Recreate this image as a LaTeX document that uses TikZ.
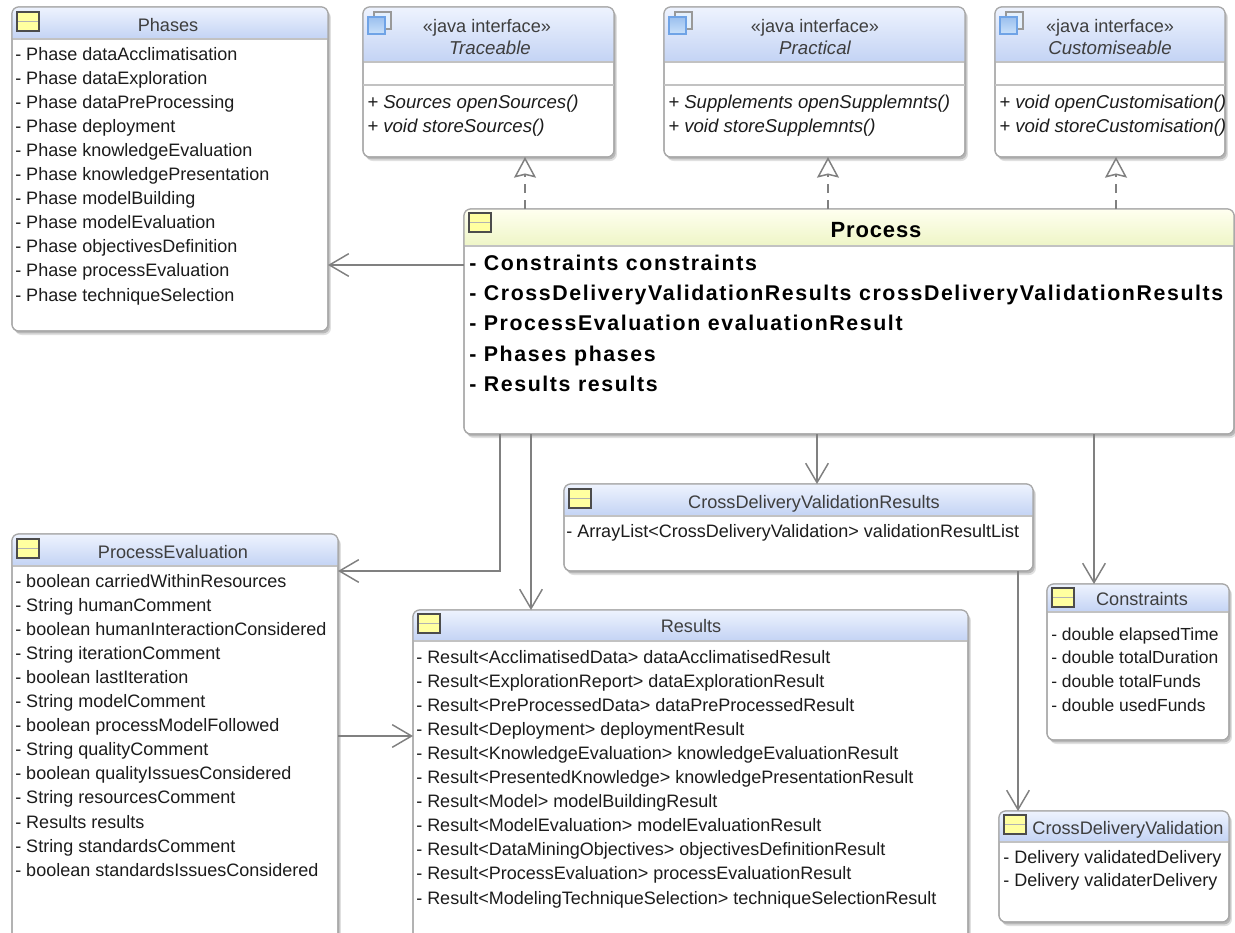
\documentclass[tikz,border=0pt]{standalone}
\usepackage{fontspec}
\setmainfont{Liberation Sans}
\newfontfamily\boldspaced[LetterSpace=7.5]{Liberation Sans Bold}
\newfontfamily\boldtitle[LetterSpace=4]{Liberation Sans Bold}
\usetikzlibrary{arrows.meta,shadows,calc}
\definecolor{headtop}{HTML}{EEF3FE}
\definecolor{headbot}{HTML}{C3D3F4}
\definecolor{ptop}{HTML}{FFFFF0}
\definecolor{pbot}{HTML}{EEF5C6}
\definecolor{edge}{HTML}{808080}
\definecolor{boxedge}{HTML}{A8A8A8}
\definecolor{txt}{HTML}{1C1C1C}
\definecolor{iconyellow}{HTML}{FFFFA0}
\definecolor{iconblue}{HTML}{A6CDF8}
\definecolor{iconline}{HTML}{6FA3E6}
\tikzset{
  classbody/.style={draw=boxedge,line width=.9pt,fill=white,rounded corners=5pt,inner sep=0pt,outer sep=0pt,anchor=north west,
    drop shadow={shadow xshift=2.2pt,shadow yshift=-3pt,opacity=.12,fill=black},
    drop shadow={shadow xshift=1.3pt,shadow yshift=-1.8pt,opacity=.18,fill=black}},
  classborder/.style={draw=boxedge,line width=.9pt,rounded corners=5pt},
  divider/.style={draw=boxedge!70,line width=.8pt},
  title/.style={font=\fontsize{13.6pt}{15pt}\selectfont,text=txt!85,inner sep=0pt,anchor=base},
  ititle/.style={title,font=\fontsize{14pt}{15pt}\selectfont\itshape},
  attr/.style={font=\fontsize{13.5pt}{15pt}\selectfont,text=txt,inner sep=0pt,anchor=base west},
  sattr/.style={attr,font=\fontsize{13.1pt}{15pt}\selectfont},
  meth/.style={attr,font=\fontsize{13.95pt}{15pt}\selectfont\itshape},
  battr/.style={attr,font=\fontsize{16pt}{18pt}\boldspaced,text=black},
  assoc/.style={draw=edge,line width=1.1pt,-{Straight Barb[length=14.5pt,width=17pt,line width=1.1pt]}},
  realize/.style={draw=edge,line width=1.1pt,dash pattern=on 7pt off 5pt,-{Stealth[open,length=15.5pt,width=16.5pt,inset=2pt,line width=1.1pt,fill=white]}},
  yicon/.style={draw=black!70,line width=.9pt,fill=iconyellow},
}
% name x1 y1 x2 y2 headerbottom topcolor botcolor
\newcommand{\classbox}[8]{%
  \pgfmathsetmacro\boxw{(#4-#2)*.75}\pgfmathsetmacro\boxh{(#5-#3)*.75}%
  \node[classbody,minimum width=\boxw pt,minimum height=\boxh pt] (#1) at (#2,#3) {};
  \begin{scope}
    \clip[rounded corners=5pt] (#2,#3) rectangle (#4,#5);
    \shade[top color=#7,bottom color=#8] (#2,#3) rectangle (#4,#6);
  \end{scope}
  \draw[divider] (#2,#6) -- (#4,#6);
  \draw[classborder] (#2,#3) rectangle (#4,#5);
}
\newcommand{\classicon}[2]{%
  \draw[yicon] (#1,#2) rectangle +(22,19);
  \draw[draw=black!30,line width=.7pt] (#1+1,#2+9) -- +(20,0);
}
\newcommand{\ifaceicon}[2]{%
  \draw[draw=black!40,line width=.9pt,fill=white!70!iconblue] (#1+6,#2) rectangle +(17,17);
  \draw[draw=iconline,line width=.9pt,top color=iconline!70,bottom color=iconblue!60] (#1,#2+5) rectangle +(17,17);
}
% prefix style x y0 dy list
\newcommand{\attrlist}[6]{%
  \foreach \t [count=\i from 0] in {#6}{
    \node[#2] (#1-\i) at (#3,#4+\i*#5) {\t};
  }
}
\begin{document}
\begin{tikzpicture}[x=0.75pt,y=-0.75pt]
\useasboundingbox (0,0) rectangle (1235,932);
\clip (0,0) rectangle (1235,932);

% Phases
\classbox{phases}{12}{7}{328}{331}{39}{headtop}{headbot}
\classicon{17}{12}
\node[title] (phases-t) at (168,31) {Phases};
\attrlist{ph}{attr}{15}{60}{24.1}{- Phase dataAcclimatisation,- Phase dataExploration,- Phase dataPreProcessing,- Phase deployment,- Phase knowledgeEvaluation,- Phase knowledgePresentation,- Phase modelBuilding,- Phase modelEvaluation,- Phase objectivesDefinition,- Phase processEvaluation,- Phase techniqueSelection}

% Interfaces
\classbox{trace}{363}{7}{614}{157}{62}{headtop}{headbot}
\ifaceicon{368}{12}
\draw[divider] (363,85) -- (614,85);
\node[title] (trace-s) at (487,32) {«java interface»};
\node[ititle] (trace-t) at (490,54) {Traceable};
\attrlist{tr}{meth}{367}{108}{24}{+ Sources openSources(),+ void storeSources()}

\classbox{pract}{664}{7}{965}{157}{62}{headtop}{headbot}
\ifaceicon{669}{12}
\draw[divider] (664,85) -- (965,85);
\node[title] (pract-s) at (815,32) {«java interface»};
\node[ititle] (pract-t) at (815,54) {Practical};
\attrlist{pr}{meth}{668}{108}{24}{+ Supplements openSupplemnts(),+ void storeSupplemnts()}

\classbox{cust}{995}{7}{1225}{157}{62}{headtop}{headbot}
\ifaceicon{1000}{12}
\draw[divider] (995,85) -- (1225,85);
\node[title] (cust-s) at (1110,32) {«java interface»};
\node[ititle] (cust-t) at (1110,54) {Customiseable};
\attrlist{cu}{meth}{999}{108}{24}{+ void openCustomisation(),+ void storeCustomisation()}

% Process
\classbox{process}{464}{209}{1234}{434}{246}{ptop}{pbot}
\classicon{469}{213}
\node[title,font=\fontsize{16.5pt}{18pt}\boldtitle,text=black] (process-t) at (876,237) {Process};
\attrlist{pa}{battr}{469}{270}{30.4}{- Constraints constraints,- CrossDeliveryValidationResults crossDeliveryValidationResults,- ProcessEvaluation evaluationResult,- Phases phases,- Results results}

% CrossDeliveryValidationResults
\classbox{cdvr}{564}{484}{1033}{571}{516}{headtop}{headbot}
\classicon{569}{489}
\node[title] (cdvr-t) at (814,508) {CrossDeliveryValidationResults};
\attrlist{cr}{attr}{566}{537}{24}{- ArrayList<CrossDeliveryValidation> validationResultList}

% ProcessEvaluation
\classbox{pe}{12}{534}{338}{960}{566}{headtop}{headbot}
\classicon{17}{539}
\node[title] (pe-t) at (173,558) {ProcessEvaluation};
\attrlist{pv}{attr}{15}{587}{24.1}{- boolean carriedWithinResources,- String humanComment,- boolean humanInteractionConsidered,- String iterationComment,- boolean lastIteration,- String modelComment,- boolean processModelFollowed,- String qualityComment,- boolean qualityIssuesConsidered,- String resourcesComment,- Results results,- String standardsComment,- boolean standardsIssuesConsidered}

% Results
\classbox{results}{413}{610}{968}{960}{641}{headtop}{headbot}
\classicon{418}{614}
\node[title] (results-t) at (691,632) {Results};
\attrlist{re}{attr}{416}{663}{24.1}{- Result<AcclimatisedData> dataAcclimatisedResult,- Result<ExplorationReport> dataExplorationResult,- Result<PreProcessedData> dataPreProcessedResult,- Result<Deployment> deploymentResult,- Result<KnowledgeEvaluation> knowledgeEvaluationResult,- Result<PresentedKnowledge> knowledgePresentationResult,- Result<Model> modelBuildingResult,- Result<ModelEvaluation> modelEvaluationResult,- Result<DataMiningObjectives> objectivesDefinitionResult,- Result<ProcessEvaluation> processEvaluationResult,- Result<ModelingTechniqueSelection> techniqueSelectionResult}

% Constraints
\classbox{cons}{1047}{584}{1229}{740}{612}{headtop}{headbot}
\classicon{1052}{588}
\node[title] (cons-t) at (1142,605) {Constraints};
\attrlist{co}{sattr}{1051}{640}{23.7}{- double elapsedTime,- double totalDuration,- double totalFunds,- double usedFunds}

% CrossDeliveryValidation
\classbox{cdv}{999}{811}{1229}{922}{842}{headtop}{headbot}
\classicon{1004}{815}
\node[title] (cdv-t) at (1128,834) {CrossDeliveryValidation};
\attrlist{cd}{attr}{1003}{863}{23}{- Delivery validatedDelivery,- Delivery validaterDelivery}

% Connectors
\coordinate (r1) at (525,209);
\coordinate (r2) at (828,209);
\coordinate (r3) at (1116,209);
\draw[realize] (r1) -- (r1 |- trace.south);
\draw[realize] (r2) -- (r2 |- pract.south);
\draw[realize] (r3) -- (r3 |- cust.south);
\draw[assoc] (process.west |- 0,265) -- (phases.east |- 0,265);
\draw[assoc] (process.south -| 500,0) -- (500,571) -- (pe.east |- 0,571);
\draw[assoc] (process.south -| 531,0) -- (results.north -| 531,0);
\draw[assoc] (process.south -| 817,0) -- (cdvr.north -| 817,0);
\draw[assoc] (process.south -| 1094,0) -- (cons.north -| 1094,0);
\draw[assoc] (cdvr.south -| 1018,0) -- (cdv.north -| 1018,0);
\draw[assoc] (pe.east |- 0,736) -- (results.west |- 0,736);
\end{tikzpicture}
\end{document}
